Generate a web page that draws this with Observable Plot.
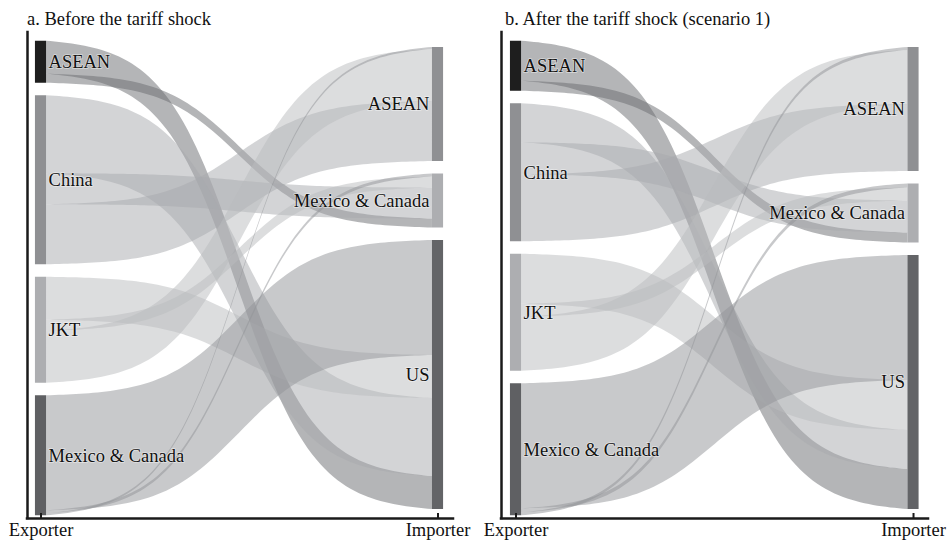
<!DOCTYPE html>
<html>
<head>
<meta charset="utf-8">
<script src="https://cdn.jsdelivr.net/npm/d3@7"></script>
<script src="https://cdn.jsdelivr.net/npm/@observablehq/plot@0.6"></script>
<style>
  body { margin: 0; background: #fff; font-family: "Liberation Serif", "Times New Roman", serif; }
  #wrap { display: flex; width: 952px; height: 541px; overflow: hidden; }
  .panel { width: 476px; flex: none; }
  .title { height: 30px; box-sizing: border-box; padding-top: 10px; line-height: 18px;
           font-size: 18.5px; color: #111; white-space: nowrap; }
  svg { overflow: visible; }
</style>
</head>
<body>
<div id="wrap">
  <div class="panel" id="panel-a"><div class="title" style="padding-left:27px">a. Before the tariff shock</div></div>
  <div class="panel" id="panel-b"><div class="title" style="padding-left:29px">b. After the tariff shock (scenario 1)</div></div>
</div>
<script>
// Regions on each side of the flows (top to bottom)
const exporters = ["ASEAN", "China", "JKT", "Mexico & Canada"];
const importers = ["ASEAN", "Mexico & Canada", "US"];
const axisLabels = ["Exporter", "Importer"];

// Trade flows: rows = exporter, columns = importer (ASEAN, Mexico & Canada, US)
const flowsBefore = [
  [0, 9, 33],     // ASEAN
  [60, 31, 78],   // China
  [52, 11, 43],   // JKT
  [2, 3, 115]     // Mexico & Canada
];
const flowsAfter = [
  [0, 10, 40],    // ASEAN
  [67, 32, 39],   // China
  [54, 13, 50],   // JKT
  [3, 4, 125]     // Mexico & Canada
];

// Greys for the node bars and the ribbons
const exporterColors = ["#1e1e1e", "#8f9093", "#adaeb1", "#5f6063"];
const importerColors = ["#8f9093", "#adaeb1", "#636467"];
const flowColors = ["#696b6f", "#a7a9ad", "#b9bbbd", "#919397"];

const GAP = 12.5;        // space between stacked nodes
const NODE_W = 0.028;    // node bar width in x units
const Y_DOMAIN = [-240, 246];
const FONT = 18.5;

function layout(flows) {
  const outTotals = exporters.map((_, i) => d3.sum(flows[i]));
  const inTotals = importers.map((_, j) => d3.sum(flows, r => r[j]));
  const stack = totals => {
    const T = d3.sum(totals) + GAP * (totals.length - 1);
    let cur = T / 2;
    return totals.map(v => { const top = cur; cur -= v + GAP; return {top, bottom: top - v}; });
  };
  const expNodes = stack(outTotals).map((n, i) => ({...n, name: exporters[i], fill: exporterColors[i], x: 1}));
  const impNodes = stack(inTotals).map((n, j) => ({...n, name: importers[j], fill: importerColors[j], x: 2}));

  const links = [];
  exporters.forEach((_, i) => importers.forEach((_, j) => {
    if (flows[i][j] > 0) links.push({i, j, value: flows[i][j], fill: flowColors[i]});
  }));
  const find = (i, j) => links.find(l => l.i === i && l.j === j);
  // at each exporter, ribbons stack in reverse importer order; at each importer, in reverse exporter order
  expNodes.forEach((n, i) => {
    let cur = n.top;
    for (let j = importers.length - 1; j >= 0; j--) {
      const l = find(i, j);
      if (l) { l.s0 = cur; l.s1 = cur - l.value; cur = l.s1; }
    }
  });
  impNodes.forEach((n, j) => {
    let cur = n.top;
    for (let i = exporters.length - 1; i >= 0; i--) {
      const l = find(i, j);
      if (l) { l.t0 = cur; l.t1 = cur - l.value; cur = l.t1; }
    }
  });

  // sigmoid ribbons between the node bars
  const SMOOTH = 5, N = 90;
  const L = s => 1 / (1 + Math.exp(-s));
  const lo = L(-SMOOTH), hi = L(SMOOTH);
  const xa = 1 + NODE_W / 2, xb = 2 - NODE_W / 2;
  const ribbons = [];
  links.forEach((l, k) => {
    for (let m = 0; m <= N; m++) {
      const s = -SMOOTH + 2 * SMOOTH * m / N;
      const f = (L(s) - lo) / (hi - lo);
      ribbons.push({
        id: k,
        x: xa + (xb - xa) * m / N,
        top: l.s0 + (l.t0 - l.s0) * f,
        bottom: l.s1 + (l.t1 - l.s1) * f,
        fill: l.fill
      });
    }
  });
  return {expNodes, impNodes, ribbons};
}

function drawPanel(flows, el, marginLeft, marginRight, xDomain) {
  const {expNodes, impNodes, ribbons} = layout(flows);
  const nodes = expNodes.concat(impNodes);
  const yMin = Y_DOMAIN[0];
  const chart = Plot.plot({
    width: 476,
    height: 511,
    marginTop: 2,
    marginBottom: 23,
    marginLeft,
    marginRight,
    x: {domain: xDomain},
    y: {domain: Y_DOMAIN, axis: null},
    color: {type: "identity"},
    style: {fontFamily: "Liberation Serif, Times New Roman, serif", fontSize: FONT + "px", color: "#111", background: "white", overflow: "visible"},
    marks: [
      Plot.areaY(ribbons, {x: "x", y1: "bottom", y2: "top", z: "id", fill: "fill", fillOpacity: 0.5, curve: "linear"}),
      Plot.rect(nodes, {x1: d => d.x - NODE_W / 2, x2: d => d.x + NODE_W / 2, y1: "bottom", y2: "top", fill: "fill"}),
      Plot.text(expNodes, {
        x: d => d.x + NODE_W / 2, y: d => (d.top + d.bottom) / 2, text: "name",
        textAnchor: "start", lineAnchor: "middle", dx: 2, fontSize: FONT, fill: "#111",
        stroke: "white", strokeOpacity: 0.5, strokeWidth: 1.5
      }),
      Plot.text(impNodes, {
        x: d => d.x - NODE_W / 2, y: d => (d.top + d.bottom) / 2, text: "name",
        textAnchor: "end", lineAnchor: "middle", dx: -3, fontSize: FONT, fill: "#111",
        stroke: "white", strokeOpacity: 0.5, strokeWidth: 1.5
      }),
      Plot.ruleX([xDomain[0]], {stroke: "#1a1a1a", strokeWidth: 2.5, strokeLinecap: "square"}),
      Plot.ruleY([yMin], {stroke: "#1a1a1a", strokeWidth: 2.5, strokeLinecap: "square"}),
      Plot.ruleX([1, 2], {y1: yMin, y2: yMin + 5, stroke: "#1a1a1a", strokeWidth: 2}),
      Plot.axisX([1, 2], {tickFormat: d => axisLabels[d - 1], tickSize: 0, tickPadding: 4, fontSize: FONT, label: null, fill: "#111"})
    ]
  });
  el.appendChild(chart);
}

drawPanel(flowsBefore, document.getElementById("panel-a"), 27, 23, [0.966, 2.039]);
drawPanel(flowsAfter, document.getElementById("panel-b"), 25, 24, [0.9635, 2.0377]);
</script>
</body>
</html>
